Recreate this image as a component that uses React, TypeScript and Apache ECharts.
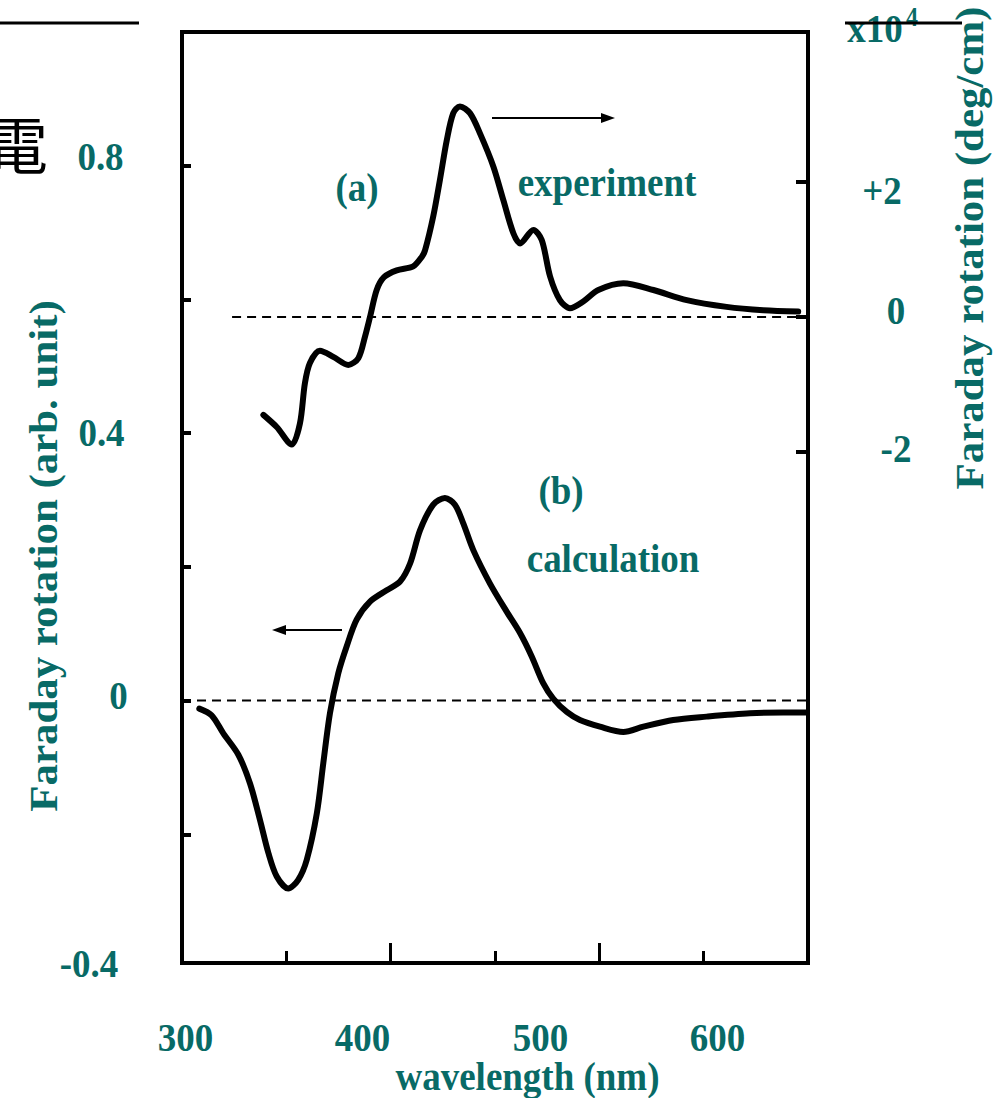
import React, { useEffect, useRef } from "react";
import * as echarts from "echarts";

// (a) measured Faraday rotation, right axis, in units of 10^4 deg/cm
const expWavelength = [
  339.0, 345.4, 352.6, 356.5, 358.9, 361.3, 366.1, 372.5, 379.7, 384.5, 387.7, 390.1, 393.3, 396.8,
  402.9, 410.8, 414.9, 416.5, 420.4, 423.6, 426.9, 430.0, 433.2, 438.0, 442.8, 449.2, 454.0, 458.8,
  462.0, 468.4, 472.4, 476.4, 481.1, 485.9, 492.3, 499.5, 511.5, 525.9, 541.9, 561.0, 578.6, 595.3,
];
const expRotation = [
  -1.45, -1.63, -1.89, -1.58, -0.98, -0.68, -0.5, -0.59, -0.71, -0.61, -0.29, 0.0, 0.4, 0.59,
  0.69, 0.75, 0.89, 0.99, 1.49, 2.03, 2.62, 3.02, 3.12, 3.02, 2.72, 2.23, 1.73, 1.24,
  1.09, 1.29, 1.14, 0.6, 0.25, 0.13, 0.23, 0.4, 0.5, 0.4, 0.25, 0.15, 0.1, 0.08,
];

// (b) calculated Faraday rotation, left axis, arbitrary units
const calcWavelength = [
  308.3, 314.2, 319.8, 327.0, 332.6, 337.4, 341.4, 345.4, 350.9, 355.7, 359.8, 364.6, 367.7, 370.9,
  374.9, 378.9, 383.7, 390.1, 398.1, 404.5, 409.3, 414.1, 420.4, 426.0, 430.8, 434.8, 439.6, 447.6,
  455.6, 462.0, 467.6, 473.1, 477.9, 484.4, 490.7, 500.3, 511.5, 521.1, 535.4, 551.4, 572.2, 588.2,
  599.4,
];
const calcRotation = [
  -0.012, -0.022, -0.049, -0.081, -0.124, -0.179, -0.228, -0.263, -0.281, -0.268, -0.238, -0.169,
  -0.094, -0.019, 0.041, 0.081, 0.121, 0.148, 0.165, 0.178, 0.205, 0.255, 0.293, 0.303, 0.293,
  0.265, 0.225, 0.175, 0.133, 0.101, 0.066, 0.026, 0.003, -0.017, -0.029, -0.039, -0.047, -0.039,
  -0.029, -0.024, -0.019, -0.018, -0.018,
];

// zero reference lines
const expZeroLine = [324, 600];
const calcZeroLine = [300, 600];

// tick values and printed labels
const leftTickValues = [-0.2, 0, 0.2, 0.4, 0.6, 0.8];
const rightTickValues = [-2, 0, 2];
const xTickLabels = ["300", "400", "500", "600"];
const leftTickLabels = ["0.8", "0.4", "0", "-0.4"];
const rightTickLabels = ["+2", "0", "-2"];

const TEAL = "#086a66";
const SERIF = '"Liberation Serif", "Times New Roman", serif';

function label(text: string, x: number, y: number, size = 37, extra: any = {}) {
  return {
    type: "text",
    x,
    y,
    scaleY: 1.1,
    z: 10,
    style: {
      text,
      font: `bold ${size}px ${SERIF}`,
      fill: TEAL,
      align: "center",
      verticalAlign: "middle",
    },
    ...extra,
  };
}

function arrow(x1: number, x2: number, y: number) {
  const dir = x2 > x1 ? 1 : -1;
  const head = 14;
  return [
    {
      type: "line",
      z: 10,
      shape: { x1, y1: y, x2: x2 - dir * head, y2: y },
      style: { stroke: "#000", lineWidth: 2 },
    },
    {
      type: "polygon",
      z: 10,
      shape: {
        points: [
          [x2, y],
          [x2 - dir * head, y - 5],
          [x2 - dir * head, y + 5],
        ],
      },
      style: { fill: "#000" },
    },
  ];
}

export default function App() {
  const ref = useRef<HTMLDivElement>(null);

  useEffect(() => {
    if (!ref.current) return;
    const chart = echarts.init(ref.current, null, { renderer: "svg" });

    const curveStyle = {
      color: "#000",
      width: 6,
      cap: "round",
      join: "round",
    };
    const dashStyle = { color: "#000", width: 2, type: [9, 6] };

    const xLabelX = [185.5, 362.5, 540.5, 717.5];
    const leftLabelPos = [
      [100.5, 155.5],
      [101.5, 432],
      [118.5, 695],
      [89, 963],
    ];
    const rightLabelPos = [
      [882, 190],
      [896, 310],
      [896, 448],
    ];

    const option: any = {
      animation: false,
      backgroundColor: "#fff",
      grid: {
        left: 182,
        top: 32,
        width: 626,
        height: 931,
        show: true,
        borderColor: "#000",
        borderWidth: 4,
        backgroundColor: "transparent",
      },
      xAxis: {
        type: "value",
        min: 300,
        max: 600,
        interval: 100,
        axisLine: { show: false, onZero: false },
        axisTick: { show: true, inside: true, length: 20, lineStyle: { color: "#000", width: 3 } },
        minorTick: { show: true, splitNumber: 2, length: 12, lineStyle: { color: "#000", width: 3 } },
        axisLabel: { show: false },
        splitLine: { show: false },
      },
      yAxis: [
        {
          type: "value",
          position: "left",
          min: -0.3925,
          max: 1.0,
          axisLine: { show: false, onZero: false },
          axisTick: {
            show: true,
            inside: true,
            length: 9,
            customValues: leftTickValues,
            lineStyle: { color: "#000", width: 4 },
          },
          axisLabel: { show: false },
          splitLine: { show: false },
        },
        {
          type: "value",
          position: "right",
          min: -9.57,
          max: 4.222,
          axisLine: { show: false, onZero: false },
          axisTick: {
            show: true,
            inside: true,
            length: 12,
            customValues: rightTickValues,
            lineStyle: { color: "#000", width: 4 },
          },
          axisLabel: { show: false },
          splitLine: { show: false },
        },
      ],
      series: [
        {
          name: "zero (a)",
          type: "line",
          yAxisIndex: 1,
          data: expZeroLine.map((x) => [x, 0]),
          showSymbol: false,
          lineStyle: dashStyle,
          silent: true,
          z: 1,
        },
        {
          name: "zero (b)",
          type: "line",
          yAxisIndex: 0,
          data: calcZeroLine.map((x) => [x, 0]),
          showSymbol: false,
          lineStyle: dashStyle,
          silent: true,
          z: 1,
        },
        {
          name: "experiment",
          type: "line",
          yAxisIndex: 1,
          smooth: 0.3,
          showSymbol: false,
          data: expWavelength.map((x, i) => [x, expRotation[i]]),
          lineStyle: curveStyle,
          z: 3,
        },
        {
          name: "calculation",
          type: "line",
          yAxisIndex: 0,
          smooth: 0.3,
          showSymbol: false,
          data: calcWavelength.map((x, i) => [x, calcRotation[i]]),
          lineStyle: curveStyle,
          z: 3,
        },
      ],
      graphic: [
        // slide header fragments
        {
          type: "text",
          x: 17,
          y: 142,
          z: 10,
          style: {
            text: "電",
            font: '62px "Noto Sans CJK JP", sans-serif',
            fill: "#000",
            align: "center",
            verticalAlign: "middle",
          },
        },
        {
          type: "line",
          z: 10,
          shape: { x1: 0, y1: 23, x2: 139, y2: 23 },
          style: { stroke: "#000", lineWidth: 3 },
        },
        // tick labels
        ...xTickLabels.map((t, i) => label(t, xLabelX[i], 1036.5)),
        ...leftTickLabels.map((t, i) => label(t, leftLabelPos[i][0], leftLabelPos[i][1])),
        ...rightTickLabels.map((t, i) => label(t, rightLabelPos[i][0], rightLabelPos[i][1])),
        // right-axis multiplier
        label("x10", 875, 28),
        label("4", 912, 17, 24),
        {
          type: "line",
          z: 11,
          shape: { x1: 845, y1: 23, x2: 962, y2: 23 },
          style: { stroke: "#000", lineWidth: 3 },
        },
        // axis titles
        label("wavelength (nm)", 527.5, 1076),
        {
          type: "text",
          x: 44,
          y: 556,
          rotation: Math.PI / 2,
          scaleX: 1.1,
          z: 10,
          style: {
            text: "Faraday rotation (arb. unit)",
            font: `bold 39px ${SERIF}`,
            fill: TEAL,
            align: "center",
            verticalAlign: "middle",
          },
        },
        {
          type: "text",
          x: 970,
          y: 248,
          rotation: Math.PI / 2,
          scaleX: 1.1,
          z: 10,
          style: {
            text: "Faraday rotation (deg/cm)",
            font: `bold 39px ${SERIF}`,
            fill: TEAL,
            align: "center",
            verticalAlign: "middle",
          },
        },
        // curve annotations
        label("(a)", 357, 187),
        label("experiment", 607, 182),
        label("(b)", 561, 490),
        label("calculation", 613, 558),
        ...arrow(492, 615, 118),
        ...arrow(342, 272, 630),
      ],
    };

    chart.setOption(option);
    return () => chart.dispose();
  }, []);

  return (
    <div
      ref={ref}
      style={{ position: "fixed", left: 0, top: 0, width: 1005, height: 1098, background: "#fff" }}
    />
  );
}
